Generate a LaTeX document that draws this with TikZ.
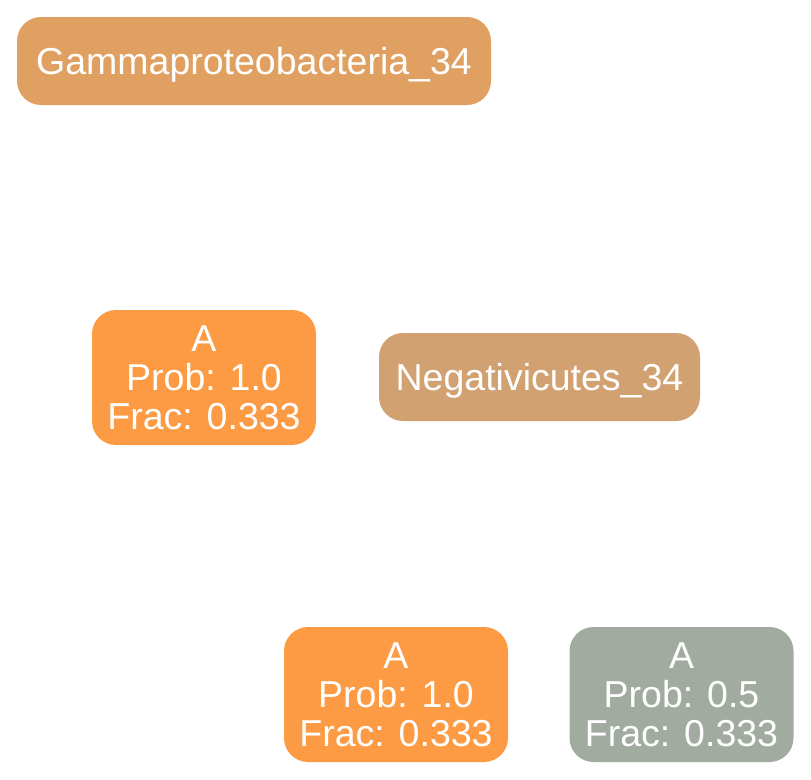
\documentclass[tikz,border=0pt]{standalone}
\usepackage{fontspec}
\setmainfont{Liberation Sans}
\definecolor{gammac}{HTML}{E0A062}
\definecolor{orangec}{HTML}{FD9B45}
\definecolor{negac}{HTML}{D1A171}
\definecolor{greyc}{HTML}{A2ABA0}
\tikzset{
  box/.style={rounded corners=24pt, inner sep=0pt, text=white, align=center,
    font=\fontsize{37.5}{39}\selectfont},
  wide/.style={box, minimum height=88pt, text depth=0pt},
  tall/.style={box, minimum width=224pt, minimum height=135pt},
}
\begin{document}
\begin{tikzpicture}[x=1pt,y=-1pt]
\useasboundingbox (0,0) rectangle (811,779);
\node[wide, fill=gammac, minimum width=474pt] (gamma) at (254,61) {Gammaproteobacteria\_34};
\node[tall, fill=orangec] (a1) at (204,377.5) {A\\Prob: 1.0\\Frac: 0.333};
\node[wide, fill=negac, minimum width=321pt] (nega) at (539.5,377) {Negativicutes\_34};
\node[tall, fill=orangec] (a2) at (396,694.5) {A\\Prob: 1.0\\Frac: 0.333};
\node[tall, fill=greyc] (a3) at (681.5,694.5) {A\\Prob: 0.5\\Frac: 0.333};
\end{tikzpicture}
\end{document}
